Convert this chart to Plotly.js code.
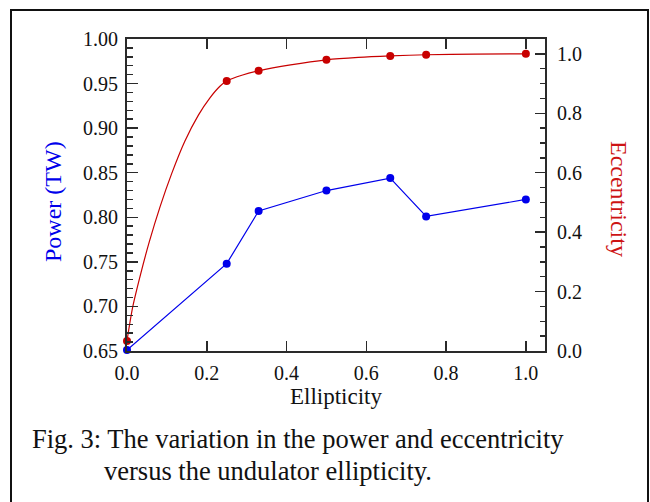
<!DOCTYPE html>
<html>
<head>
<meta charset="utf-8">
<script src="https://cdn.plot.ly/plotly-3.0.1.min.js"></script>
<style>
  html, body { margin: 0; padding: 0; background: #fff; }
  #fig { width: 650px; height: 502px; }
</style>
</head>
<body>
<div id="fig"></div>
<script>
// Undulator ellipticity scan: output power and polarisation eccentricity
const ellipticity = [0, 0.25, 0.33, 0.5, 0.66, 0.75, 1.0];
const powerTW = [0.651, 0.748, 0.807, 0.830, 0.844, 0.801, 0.820];
const eccentricity = [0.034, 0.909, 0.943, 0.980, 0.993, 0.997, 1.0];

// smooth fitted eccentricity curve
const fitEllipticity = [0, 0.014, 0.034, 0.056, 0.083, 0.112, 0.145, 0.179, 0.208, 0.233, 0.25,
                        0.29, 0.33, 0.41, 0.5, 0.58, 0.66, 0.75, 0.87, 1.0];
const fitEccentricity = [0.034, 0.146, 0.258, 0.368, 0.486, 0.597, 0.706, 0.794, 0.852, 0.891, 0.909,
                         0.929, 0.943, 0.963, 0.980, 0.988, 0.993, 0.997, 0.999, 1.0];

const xTicks = [0, 0.2, 0.4, 0.6, 0.8, 1.0];
const powerTicks = [0.65, 0.70, 0.75, 0.80, 0.85, 0.90, 0.95, 1.00];
const eccTicks = [0, 0.2, 0.4, 0.6, 0.8, 1.0];

const captionLine1 = 'Fig. 3: The variation in the power and eccentricity';
const captionLine2 = 'versus the undulator ellipticity.';

const BLUE = 'rgb(0,0,235)';
const RED = 'rgb(200,0,0)';
const AXIS = '#2a2a2a';
const SERIF = '"Liberation Serif", "Times New Roman", serif';

// plot-area pixel box inside the 650x502 figure
const L = 127, R = 105, T = 39, B = 151;
const W = 650 - L - R, H = 502 - T - B;
const px = x => (x - L) / W;
const py = y => (502 - B - y) / H;

const traces = [
  {
    x: ellipticity, y: powerTW, type: 'scatter', mode: 'lines+markers',
    line: {color: BLUE, width: 1.2},
    marker: {color: BLUE, size: 8},
    xaxis: 'x', yaxis: 'y', cliponaxis: false, hoverinfo: 'skip'
  },
  {
    x: fitEllipticity, y: fitEccentricity, type: 'scatter', mode: 'lines',
    line: {color: RED, width: 1.2, shape: 'spline', smoothing: 0.8},
    xaxis: 'x', yaxis: 'y2', hoverinfo: 'skip'
  },
  {
    x: ellipticity, y: eccentricity, type: 'scatter', mode: 'markers',
    marker: {color: RED, size: 8},
    xaxis: 'x', yaxis: 'y2', cliponaxis: false, hoverinfo: 'skip'
  }
];

const tickFont = {family: SERIF, size: 20, color: '#111'};

const layout = {
  width: 650, height: 502,
  margin: {l: L, r: R, t: T, b: B, pad: 0},
  paper_bgcolor: '#fff', plot_bgcolor: '#fff',
  showlegend: false,
  font: {family: SERIF, color: '#111'},
  xaxis: {
    range: [0, 1.048],
    tickvals: xTicks, ticktext: xTicks.map(v => v.toFixed(1)),
    ticks: 'inside', ticklen: 10, tickwidth: 1.5, tickcolor: AXIS,
    showline: true, linewidth: 2, linecolor: AXIS, mirror: 'ticks',
    showgrid: false, zeroline: false,
    tickfont: tickFont, ticklabelstandoff: 3,
    title: {text: 'Ellipticity', font: {family: SERIF, size: 23, color: '#111'}, standoff: 3}
  },
  yaxis: {
    range: [0.65, 1.0],
    tickvals: powerTicks, ticktext: powerTicks.map(v => v.toFixed(2)),
    ticks: 'inside', ticklen: 11, tickwidth: 1.5, tickcolor: AXIS,
    minor: {ticks: 'inside', dtick: 0.01, tick0: 0.65, ticklen: 6, tickwidth: 1.5, tickcolor: AXIS, showgrid: false},
    showline: true, linewidth: 2, linecolor: AXIS,
    showgrid: false, zeroline: false,
    tickfont: tickFont, ticklabelstandoff: 3
  },
  yaxis2: {
    overlaying: 'y', side: 'right', anchor: 'x',
    range: [0, 1.05],
    tickvals: eccTicks, ticktext: eccTicks.map(v => v.toFixed(1)),
    ticks: 'inside', ticklen: 10, tickwidth: 1.5, tickcolor: AXIS,
    minor: {ticks: 'inside', dtick: 0.05, tick0: 0, ticklen: 5, tickwidth: 1.5, tickcolor: AXIS, showgrid: false},
    showline: true, linewidth: 2, linecolor: AXIS,
    showgrid: false, zeroline: false,
    tickfont: tickFont, ticklabelstandoff: 6
  },
  annotations: [
    {
      text: 'Power (TW)', xref: 'paper', yref: 'paper',
      x: px(53), y: py(202), xanchor: 'center', yanchor: 'middle',
      textangle: -90, showarrow: false,
      font: {family: SERIF, size: 24, color: 'rgb(0,0,235)'}
    },
    {
      text: 'Eccentricity', xref: 'paper', yref: 'paper',
      x: px(619), y: py(199), xanchor: 'center', yanchor: 'middle',
      textangle: 90, showarrow: false,
      font: {family: SERIF, size: 24, color: 'rgb(205,20,20)'}
    },
    {
      text: captionLine1, xref: 'paper', yref: 'paper',
      x: px(30), y: py(439), xanchor: 'left', yanchor: 'middle',
      showarrow: false,
      font: {family: SERIF, size: 26.5, color: '#111'}
    },
    {
      text: captionLine2, xref: 'paper', yref: 'paper',
      x: px(102), y: py(471), xanchor: 'left', yanchor: 'middle',
      showarrow: false,
      font: {family: SERIF, size: 26.5, color: '#111'}
    }
  ],
  shapes: [
    {
      type: 'rect', xref: 'paper', yref: 'paper',
      x0: px(11), x1: px(648), y0: py(530), y1: py(10),
      line: {color: '#111', width: 2}, fillcolor: 'rgba(0,0,0,0)', layer: 'above'
    }
  ]
};

Plotly.newPlot('fig', traces, layout, {staticPlot: true, displayModeBar: false});
</script>
</body>
</html>
